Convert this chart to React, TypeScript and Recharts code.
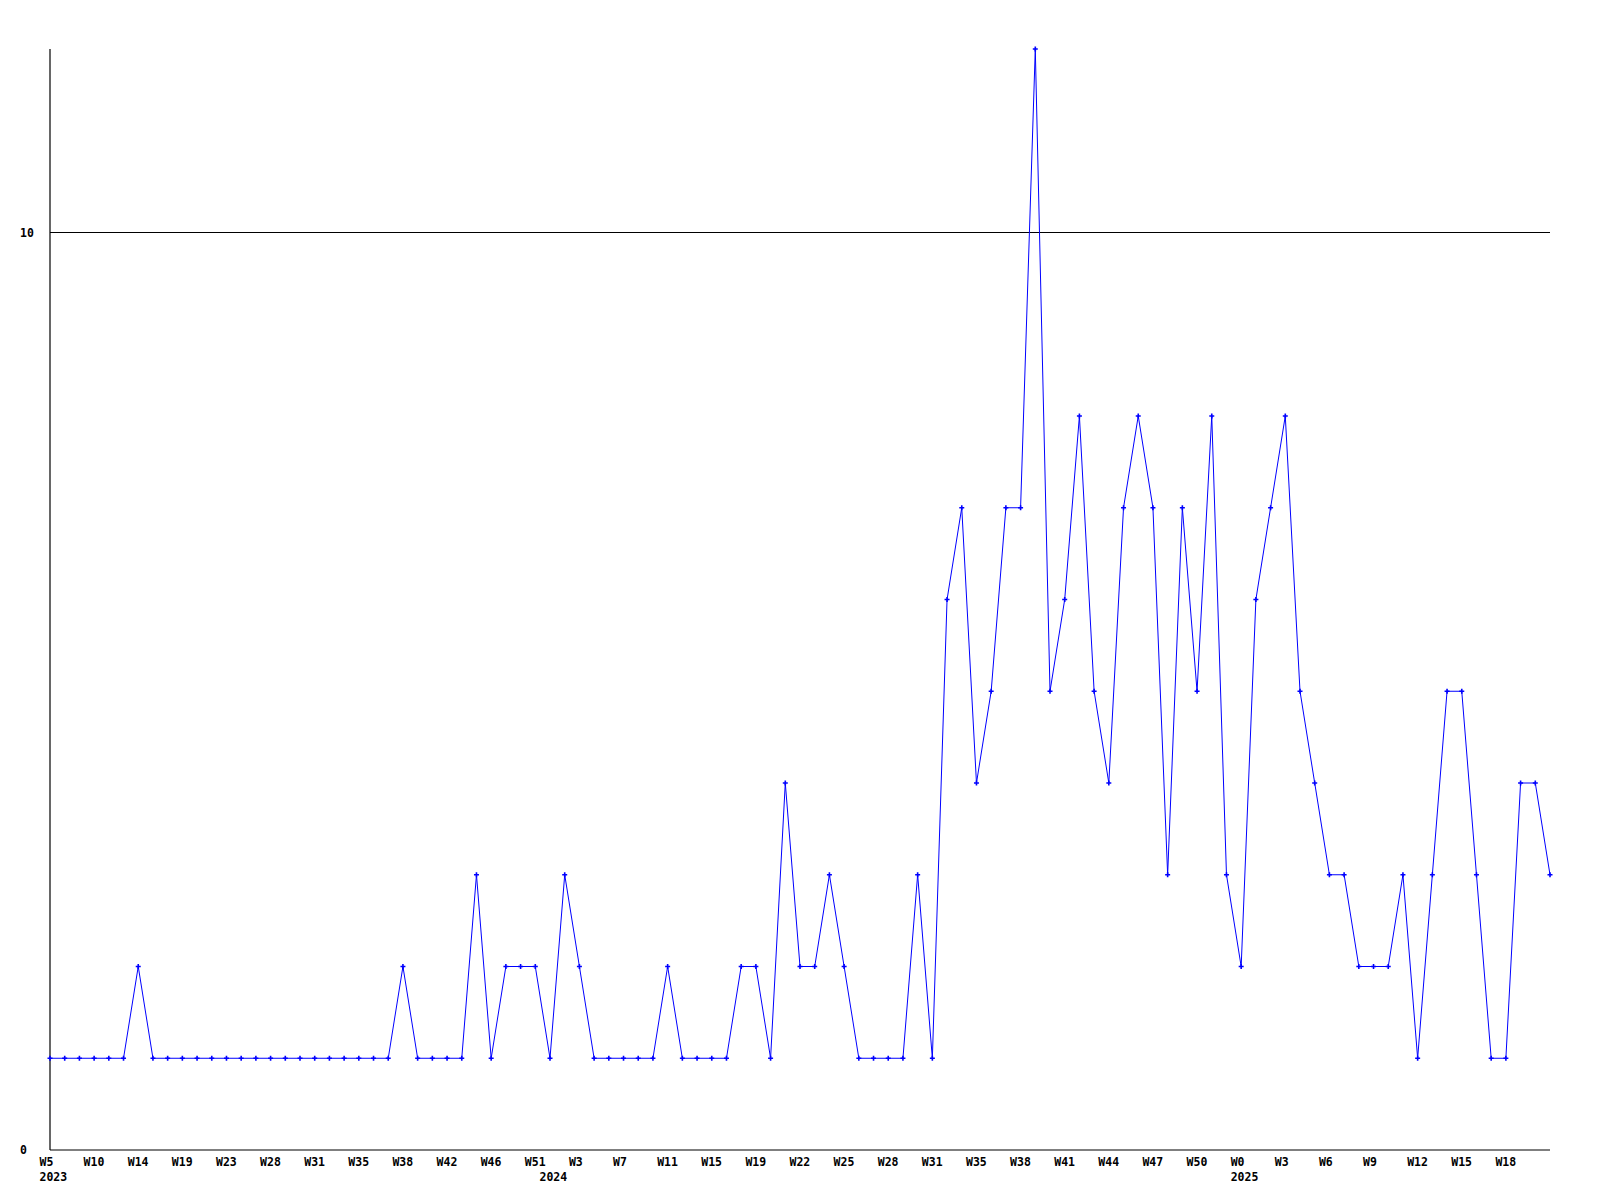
import { LineChart, Line, XAxis, YAxis, ReferenceLine } from 'recharts'

const weeks2023 = [
  'W5', 'W6', 'W8', 'W10', 'W11', 'W12', 'W14', 'W16', 'W17', 'W19', 'W20', 'W22',
  'W23', 'W25', 'W26', 'W28', 'W29', 'W30', 'W31', 'W32', 'W33', 'W35', 'W36', 'W37',
  'W38', 'W39', 'W41', 'W42', 'W43', 'W44', 'W46', 'W48', 'W49', 'W51',
]
const values2023 = [
  1, 1, 1, 1, 1, 1, 2, 1, 1, 1, 1, 1, 1, 1, 1, 1, 1, 1, 1, 1, 1, 1, 1, 1,
  2, 1, 1, 1, 1, 3, 1, 2, 2, 2,
]

const weeks2024 = [
  'W1', 'W2', 'W3', 'W5', 'W6', 'W7', 'W8', 'W10', 'W11', 'W12', 'W14', 'W15',
  'W16', 'W18', 'W19', 'W20', 'W21', 'W22', 'W23', 'W24', 'W25', 'W26', 'W27', 'W28',
  'W29', 'W30', 'W31', 'W32', 'W34', 'W35', 'W36', 'W37', 'W38', 'W39', 'W40', 'W41',
  'W42', 'W43', 'W44', 'W45', 'W46', 'W47', 'W48', 'W49', 'W50', 'W51', 'W52',
]
const values2024 = [
  1, 3, 2, 1, 1, 1, 1, 1, 2, 1, 1, 1, 1, 2, 2, 1, 4, 2, 2, 3, 2, 1, 1, 1,
  1, 3, 1, 6, 7, 4, 5, 7, 7, 12, 5, 6, 8, 5, 4, 7, 8, 7, 3, 7, 5, 8, 3,
]

const weeks2025 = [
  'W0', 'W1', 'W2', 'W3', 'W4', 'W5', 'W6', 'W7', 'W8', 'W9', 'W10', 'W11',
  'W12', 'W13', 'W14', 'W15', 'W16', 'W17', 'W18', 'W19', 'W20', 'W21',
]
const values2025 = [2, 6, 7, 8, 5, 4, 3, 3, 2, 2, 2, 3, 1, 3, 5, 5, 3, 1, 1, 4, 4, 3]

const yTicks = [0, 10]

const build = (year: string, weeks: string[], values: number[]) =>
  weeks.map((w, i) => ({ key: `${year}-${w}`, week: w, year, value: values[i] }))

const data = [
  ...build('2023', weeks2023, values2023),
  ...build('2024', weeks2024, values2024),
  ...build('2025', weeks2025, values2025),
]

const font = { fontFamily: '"DejaVu Sans Mono", monospace', fontWeight: 'bold' as const, fontSize: 11.5, fill: '#000' }

function WeekTick(props: any) {
  const { x, y, payload } = props
  const i = payload?.index ?? props.index
  const d = data[i]
  if (!d) return null
  // every third week is labelled, the last point is left bare
  const showWeek = i % 3 === 0 && i < data.length - 1
  const showYear = i === 0 || data[i - 1].year !== d.year
  if (!showWeek && !showYear) return null
  return (
    <g>
      {showWeek && <text x={x - 10.5} y={y + 16} {...font}>{d.week}</text>}
      {showYear && <text x={x - 10.5} y={y + 31} {...font}>{d.year}</text>}
    </g>
  )
}

function ValueTick(props: any) {
  const { y, payload } = props
  return <text x={12} y={y + 4} {...font}>{payload.value}</text>
}

function Marker(props: any) {
  const { cx, cy } = props
  if (cx == null || cy == null) return null
  return (
    <path
      d={`M${cx - 2.5},${cy}L${cx + 2.5},${cy}M${cx},${cy - 2.5}L${cx},${cy + 2.5}`}
      stroke="#0000ff"
      strokeWidth={1.6}
    />
  )
}

export default function App() {
  return (
    <LineChart
      width={1584}
      height={1184}
      data={data}
      margin={{ top: 41, right: 42, bottom: 0, left: 0 }}
    >
      <XAxis
        dataKey="key"
        interval={0}
        tickLine={false}
        tickSize={0}
        tickMargin={0}
        height={42}
        axisLine={{ stroke: '#000', strokeWidth: 1.2 }}
        tick={<WeekTick />}
      />
      <YAxis
        domain={[0, 12]}
        ticks={yTicks}
        width={42}
        tickLine={false}
        axisLine={{ stroke: '#000', strokeWidth: 1.2 }}
        tick={<ValueTick />}
      />
      <ReferenceLine y={10} stroke="#000" strokeWidth={1} />
      <Line
        type="linear"
        dataKey="value"
        stroke="#0000ff"
        strokeWidth={1}
        dot={<Marker />}
        activeDot={false}
        isAnimationActive={false}
      />
    </LineChart>
  )
}
